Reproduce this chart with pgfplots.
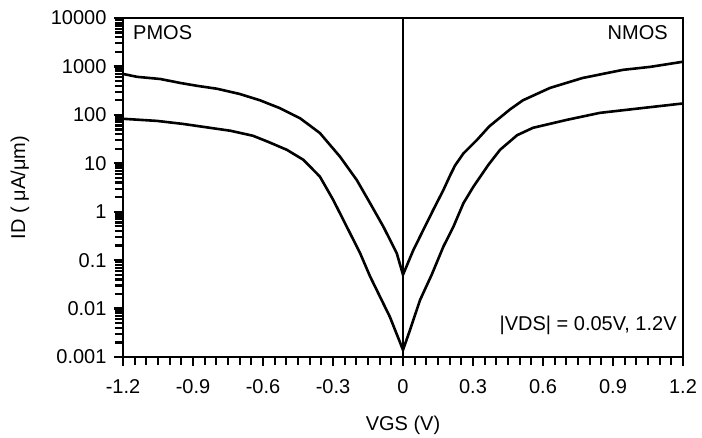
\documentclass[border=0pt]{standalone}
\usepackage{pgfplots}
\pgfplotsset{compat=1.18}
\usepackage{fontspec}
\setmainfont{Liberation Sans}
\usetikzlibrary{calc}
\begin{document}
\begin{tikzpicture}
\begin{axis}[
  scale only axis, width=560pt, height=339pt,
  xmin=-1.2, xmax=1.2, ymode=log, ymin=0.001, ymax=10000,
  axis line style={line width=2.6pt},
  every tick/.style={line width=2.2pt, black},
  tick align=outside, xtick pos=bottom, ytick pos=left,
  major tick length=9pt, minor tick length=8pt,
  xtick={-1.2,-0.9,-0.6,-0.3,0,0.3,0.6,0.9,1.2},
  xticklabels={-1.2,-0.9,-0.6,-0.3,0,0.3,0.6,0.9,1.2},
  minor x tick num=5,
  ytick={0.001,0.01,0.1,1,10,100,1000,10000},
  yticklabels={0.001,0.01,0.1,1,10,100,1000,10000},
  font=\fontsize{20}{24}\selectfont,
  xticklabel style={yshift=-10pt},
  yticklabel style={xshift=-4pt},
  xlabel={VGS (V)}, ylabel={ID ( μA/μm)},
  xlabel style={at={(axis description cs:0.5,-0.2006)}, anchor=center},
  ylabel style={at={(axis description cs:-0.184,0.5)}, anchor=center},
]
\addplot[black, line width=2.6pt, no markers] coordinates {
(-1.2,700) (-1.14,610) (-1.04,550) (-0.956,457) (-0.883,398) (-0.797,346)
(-0.70,270) (-0.613,200) (-0.527,137) (-0.441,85) (-0.356,42) (-0.270,13.7)
(-0.198,4.5) (-0.141,1.5) (-0.084,0.49) (-0.027,0.14) (0,0.05) (0.044,0.16)
(0.087,0.42) (0.130,1.1) (0.173,2.8) (0.201,5.5) (0.223,9) (0.259,16)
(0.316,30) (0.37,58) (0.459,130) (0.514,200) (0.63,360) (0.77,578)
(0.943,850) (1.06,980) (1.2,1250)
};
\addplot[black, line width=2.6pt, no markers] coordinates {
(-1.2,83) (-1.054,75) (-0.943,65) (-0.827,54) (-0.74,47) (-0.643,37)
(-0.58,28) (-0.498,19) (-0.427,11.8) (-0.356,5.3) (-0.299,1.75) (-0.241,0.49)
(-0.184,0.14) (-0.141,0.046) (-0.056,0.0067) (0,0.0014) (0.03,0.0036)
(0.073,0.015) (0.123,0.05) (0.173,0.19) (0.216,0.49) (0.259,1.5) (0.302,3.3)
(0.366,9.3) (0.416,19) (0.489,38) (0.557,54) (0.703,79) (0.844,110)
(1.03,139) (1.2,172)
};
\addplot[black, line width=1.8pt, no markers] coordinates {(0,0.001) (0,10000)};
\node[anchor=north west, inner sep=0pt] at (axis description cs:0.0179,0.979) {PMOS};
\node[anchor=north east, inner sep=0pt] at (axis description cs:0.973,0.979) {NMOS};
\node[anchor=base east, inner sep=0pt] at (axis description cs:0.989,0.0796) {|VDS| = 0.05V, 1.2V};
\end{axis}
\draw[line width=2.8pt, line join=miter] (current axis.south west) rectangle (current axis.north east);
\path ($(current axis.south west)+(-123pt,-80pt)$) rectangle ($(current axis.north east)+(19pt,18pt)$);
\end{tikzpicture}
\end{document}
